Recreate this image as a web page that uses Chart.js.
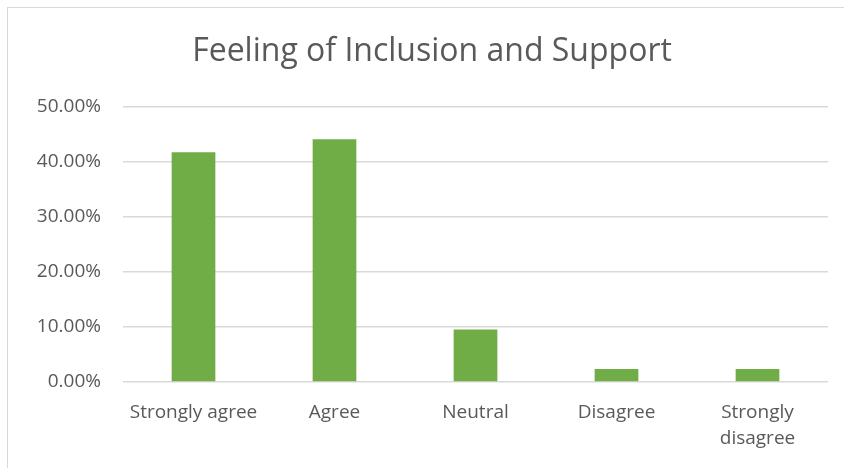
<!DOCTYPE html>
<html>
<head>
<meta charset="utf-8">
<script src="https://cdn.jsdelivr.net/npm/chart.js@4"></script>
<style>
    html, body { margin: 0; padding: 0; background: #fff; }
    #wrap { position: relative; width: 844px; height: 468px; overflow: hidden; }
    #frame {
        position: absolute; left: 7px; top: 7px; width: 850px; height: 470px;
        border-top: 1px solid #d9d9d9; border-left: 1px solid #d9d9d9;
    }
    canvas { position: absolute; left: 0; top: 0; }
</style>
</head>
<body>
<div id="wrap">
    <div id="frame"></div>
    <canvas id="chart" width="844" height="468"></canvas>
</div>
<script>
// Survey responses, share of respondents
const categories = ['Strongly agree', 'Agree', 'Neutral', 'Disagree', ['Strongly', 'disagree']];
const shares = [0.4167, 0.4405, 0.0952, 0.0238, 0.0238];
const yTicks = [0, 0.1, 0.2, 0.3, 0.4, 0.5];

const TEXT = '#595959';
const FONT = '"Open Sans", "Liberation Sans", sans-serif';

new Chart(document.getElementById('chart'), {
    type: 'bar',
    data: {
        labels: categories,
        datasets: [{
            data: shares,
            backgroundColor: '#70ad47',
            barPercentage: 0.31,
            categoryPercentage: 1,
        }],
    },
    options: {
        responsive: false,
        animation: false,
        layout: { padding: { left: 36, right: 16, top: 0, bottom: 0 } },
        plugins: {
            legend: { display: false },
            tooltip: { enabled: false },
            title: {
                display: true,
                text: 'Feeling of Inclusion and Support',
                color: TEXT,
                font: { family: FONT, size: 32, weight: 'normal', lineHeight: 1.2 },
                padding: { top: 33, bottom: 35 },
            },
        },
        scales: {
            x: {
                grid: { display: false },
                border: { display: false },
                ticks: {
                    color: TEXT,
                    font: { family: FONT, size: 19, lineHeight: 1.4 },
                    padding: 9,
                    maxRotation: 0,
                },
                afterFit: s => { s.height = 86; },
            },
            y: {
                min: 0,
                max: 0.5,
                afterBuildTicks: s => { s.ticks = yTicks.map(v => ({ value: v })); },
                grid: { color: '#d9d9d9', lineWidth: 1.5, drawTicks: false },
                border: { display: false },
                ticks: {
                    color: TEXT,
                    font: { family: FONT, size: 19 },
                    padding: 22,
                    callback: v => (v * 100).toFixed(2) + '%',
                },
                afterFit: s => { s.width = 87; },
            },
        },
    },
});
</script>
</body>
</html>
